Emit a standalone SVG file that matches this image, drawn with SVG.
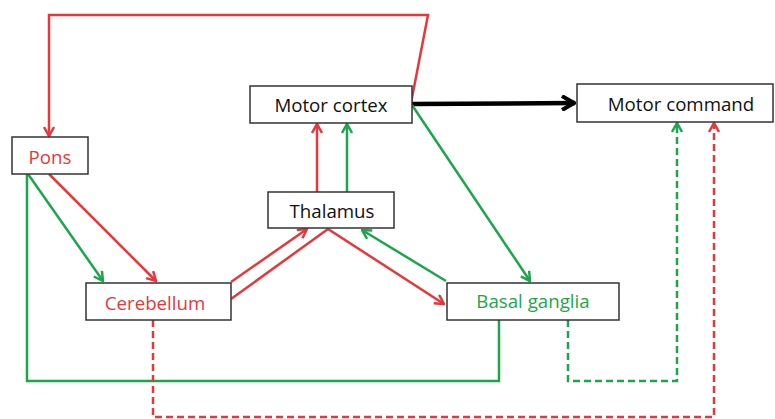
<svg xmlns="http://www.w3.org/2000/svg" width="775" height="419" viewBox="0 0 775 419">
<defs>
<style>
.box{fill:#fff;stroke:#333;stroke-width:1.5}
.t{font-family:"Open Sans","Noto Sans",sans-serif;font-size:18.7px;text-anchor:middle;dominant-baseline:central}
.r{stroke:#e8373b;stroke-width:2.5;fill:none}
.g{stroke:#1ca64c;stroke-width:2.5;fill:none}
.d{stroke-dasharray:7 4}
.k{stroke:#000;stroke-width:4.5;fill:none}
</style>
<marker id="ar" viewBox="0 0 12 12" refX="11" refY="6" markerWidth="12" markerHeight="12" markerUnits="userSpaceOnUse" orient="auto"><path d="M2,1 L11,6 L2,11" fill="none" stroke="#e8373b" stroke-width="2.5"/></marker>
<marker id="ag" viewBox="0 0 12 12" refX="11" refY="6" markerWidth="12" markerHeight="12" markerUnits="userSpaceOnUse" orient="auto"><path d="M2,1 L11,6 L2,11" fill="none" stroke="#1ca64c" stroke-width="2.5"/></marker>
<marker id="ak" viewBox="0 0 16 16" refX="15" refY="8" markerWidth="16" markerHeight="16" markerUnits="userSpaceOnUse" orient="auto"><path d="M2,1 L14,8 L2,15" fill="none" stroke="#000" stroke-width="4"/></marker>
</defs>
<g id="connectors">
<polyline class="r" points="411,103 428,15 49,15 49,136" marker-end="url(#ar)"/>
<line class="k" x1="412" y1="104" x2="575" y2="103" marker-end="url(#ak)"/>
<line class="g" x1="412" y1="105" x2="530" y2="281" marker-end="url(#ag)"/>
<line class="r" x1="317" y1="192" x2="317" y2="124" marker-end="url(#ar)"/>
<line class="g" x1="347" y1="192" x2="347" y2="124" marker-end="url(#ag)"/>
<line class="g" x1="28" y1="174" x2="103" y2="281" marker-end="url(#ag)"/>
<line class="r" x1="49" y1="174" x2="156" y2="281" marker-end="url(#ar)"/>
<polyline class="g" points="27,174 27,381 499,381 499,320"/>
<line class="r" x1="231" y1="282" x2="307" y2="229" marker-end="url(#ar)"/>
<polyline class="r" points="231,299 328,229 444,304" marker-end="url(#ar)"/>
<line class="g" x1="446" y1="281" x2="362" y2="230" marker-end="url(#ag)"/>
<polyline class="g d" points="568,320 568,381 677,381 677,123" marker-end="url(#ag)"/>
<polyline class="r d" points="153,320 153,417 714,417 714,123" marker-end="url(#ar)"/>
</g>
<g id="pons"><rect class="box" x="12" y="137" width="76" height="37"/><text class="t" x="50" y="156" fill="#e8373b">Pons</text></g>
<g id="motor-cortex"><rect class="box" x="250" y="86" width="162" height="37"/><text class="t" x="331" y="104.5" fill="#111">Motor cortex</text></g>
<g id="motor-command"><rect class="box" x="577" y="84" width="196" height="38"/><text class="t" x="681" y="103" fill="#111">Motor command</text></g>
<g id="thalamus"><rect class="box" x="268" y="192" width="126" height="36"/><text class="t" x="332" y="210.5" fill="#111">Thalamus</text></g>
<g id="cerebellum"><rect class="box" x="86" y="283" width="145" height="37"/><text class="t" x="155" y="302" fill="#e8373b">Cerebellum</text></g>
<g id="basal-ganglia"><rect class="box" x="447" y="283" width="172" height="37"/><text class="t" x="533" y="300" fill="#1ca64c">Basal ganglia</text></g>
</svg>
